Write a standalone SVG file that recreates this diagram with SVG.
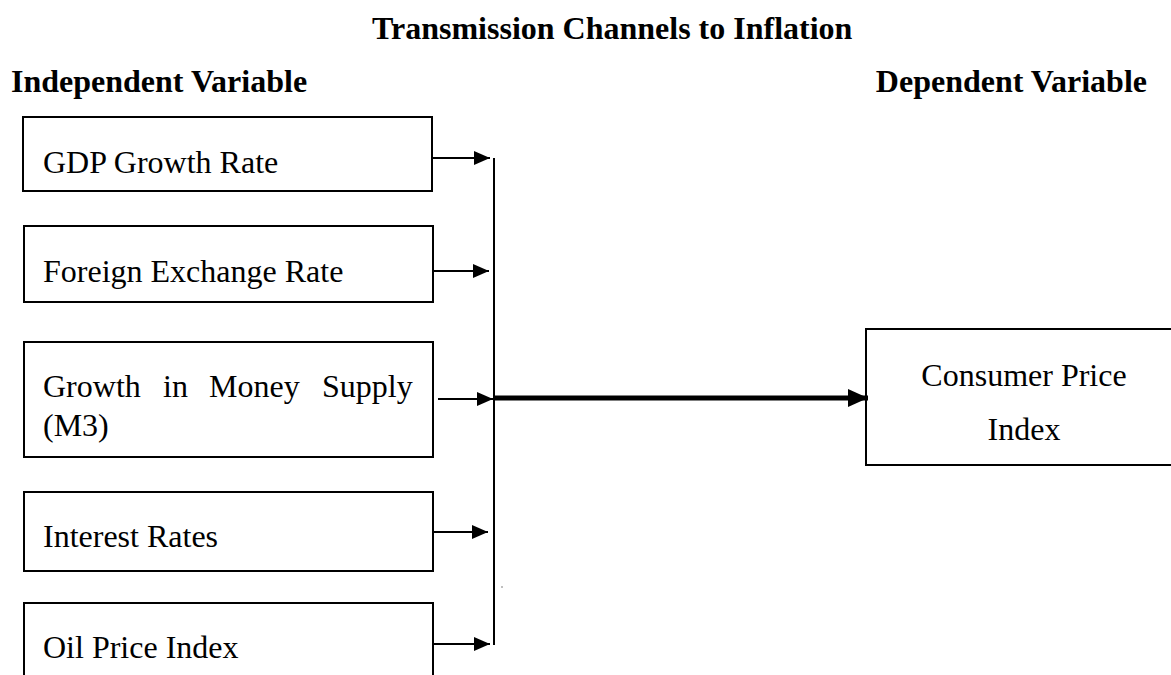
<svg xmlns="http://www.w3.org/2000/svg" width="1171" height="675" viewBox="0 0 1171 675">
<style>
  .box { fill: #fff; stroke: #000; stroke-width: 2; }
  .t { font-family: "Liberation Serif", "Times New Roman", serif; font-size: 32px; fill: #000; }
  .h { font-family: "Liberation Serif", "Times New Roman", serif; font-size: 32px; font-weight: bold; fill: #000; }
  .thin { stroke: #000; stroke-width: 2; fill: none; }
  .thick { stroke: #000; stroke-width: 5; fill: none; }
</style>
<defs>
  <marker id="ah" markerUnits="userSpaceOnUse" markerWidth="16" markerHeight="14" refX="16" refY="7" orient="auto">
    <path d="M0,0 L16,7 L0,14 z" fill="#000"/>
  </marker>
  <marker id="ahBig" markerUnits="userSpaceOnUse" markerWidth="20" markerHeight="18" refX="20" refY="9" orient="auto">
    <path d="M0,0 L20,9 L0,18 z" fill="#000"/>
  </marker>
</defs>
<rect width="1171" height="675" fill="#fff"/>

<g id="headers">
  <text class="h" x="372" y="39">Transmission Channels to Inflation</text>
  <text class="h" x="11" y="92">Independent Variable</text>
  <text class="h" x="1147" y="92" text-anchor="end">Dependent Variable</text>
</g>

<g id="node-gdp">
  <rect class="box" x="23" y="117" width="409" height="74"/>
  <text class="t" x="43" y="173">GDP Growth Rate</text>
</g>
<g id="node-fx">
  <rect class="box" x="24" y="226" width="409" height="76"/>
  <text class="t" x="43" y="282">Foreign Exchange Rate</text>
</g>
<g id="node-m3">
  <rect class="box" x="24" y="342" width="409" height="115"/>
  <text class="t" y="397"><tspan x="43">Growth</tspan><tspan x="163">in</tspan><tspan x="209">Money</tspan><tspan x="322">Supply</tspan></text>
  <text class="t" x="43" y="436">(M3)</text>
</g>
<g id="node-interest">
  <rect class="box" x="24" y="492" width="409" height="79"/>
  <text class="t" x="43" y="547">Interest Rates</text>
</g>
<g id="node-oil">
  <rect class="box" x="24" y="603" width="409" height="100"/>
  <text class="t" x="43" y="658">Oil Price Index</text>
</g>
<g id="node-cpi">
  <rect class="box" x="866" y="329" width="320" height="136"/>
  <text class="t" x="1024" y="386" text-anchor="middle">Consumer Price</text>
  <text class="t" x="1024" y="440" text-anchor="middle">Index</text>
</g>

<g id="connectors">
  <line class="thin" x1="494" y1="158" x2="494" y2="645"/>
  <line class="thin" x1="432" y1="158" x2="490" y2="158" marker-end="url(#ah)"/>
  <line class="thin" x1="433" y1="271" x2="489" y2="271" marker-end="url(#ah)"/>
  <line class="thin" x1="438" y1="399" x2="493" y2="399" marker-end="url(#ah)"/>
  <line class="thin" x1="432" y1="532" x2="488" y2="532" marker-end="url(#ah)"/>
  <line class="thin" x1="433" y1="644" x2="490" y2="644" marker-end="url(#ah)"/>
  <line class="thick" x1="494" y1="398" x2="868" y2="398" marker-end="url(#ahBig)"/>
  <rect x="501.5" y="586.5" width="1" height="1" fill="#000"/>
</g>
</svg>
